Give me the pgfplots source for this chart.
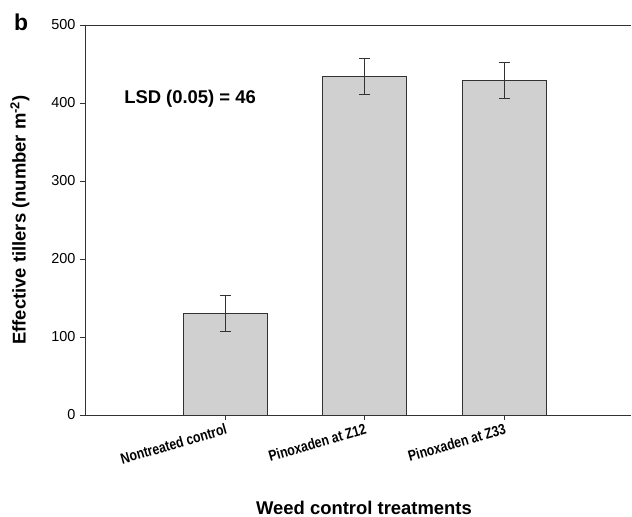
\documentclass[border=0pt]{standalone}
\usepackage{pgfplots}
\pgfplotsset{compat=1.18}
\usepackage{fontspec}
\setmainfont{Liberation Sans}
\newfontfamily\condfont[FakeStretch=0.82]{Liberation Sans}
\definecolor{barfill}{RGB}{208,208,208}
\definecolor{edge}{RGB}{50,50,50}
\begin{document}
\begin{tikzpicture}
\path[use as bounding box] (-85bp,-102bp) rectangle (547bp,415bp);
\begin{axis}[
  at={(0,0)}, anchor=south west,
  width=546bp, height=390bp, scale only axis,
  xmin=-1.004, xmax=2.91, ymin=0, ymax=500,
  axis x line*=bottom, axis y line*=left,
  axis line style={edge, line width=0.9bp},
  ybar, bar width=84bp,
  xtick={0,1,2},
  xticklabels={Nontreated control, Pinoxaden at Z12, Pinoxaden at Z33},
  ytick={0,100,200,300,400,500},
  tick align=outside, major tick length=5bp,
  tick style={edge, line width=0.8bp},
  /pgf/number format/assume math mode=true,
  yticklabel style={font=\fontsize{14.5}{16}\selectfont, xshift=-1bp},
  xticklabel style={font=\condfont\bfseries\fontsize{15}{17}\selectfont, rotate=16, anchor=north east, inner sep=1bp, yshift=-2bp},
  xlabel={Weed control treatments},
  ylabel={Effective tillers (number m\textsuperscript{-2})},
  label style={font=\bfseries\fontsize{18.5}{20}\selectfont},
  xlabel style={at={(axis description cs:0.511,-0.2385)}, anchor=center},
  ylabel style={at={(axis description cs:-0.119,0.5)}, anchor=center},
  clip=false,
]
\addplot[fill=barfill, draw=edge, line width=0.8bp,
  error bars/.cd, y dir=both, y explicit,
  error bar style={edge, line width=0.9bp},
  error mark options={rotate=90, mark size=5.5bp, edge, line width=0.9bp}]
  coordinates {
  (0,130.5) +- (0,23)
  (1,434.6) +- (0,23)
  (2,428.6) +- (0,23)
};
\draw[edge, line width=0.9bp] (rel axis cs:0,1) -- (rel axis cs:1,1);
\node[anchor=west, font=\bfseries\fontsize{18.5}{20}\selectfont, inner sep=0pt] at (axis cs:-0.724,405) {LSD (0.05) = 46};
\end{axis}
\node[font=\bfseries\fontsize{23}{25}\selectfont, inner sep=0pt] at (-64bp,393bp) {b};
\end{tikzpicture}
\end{document}
